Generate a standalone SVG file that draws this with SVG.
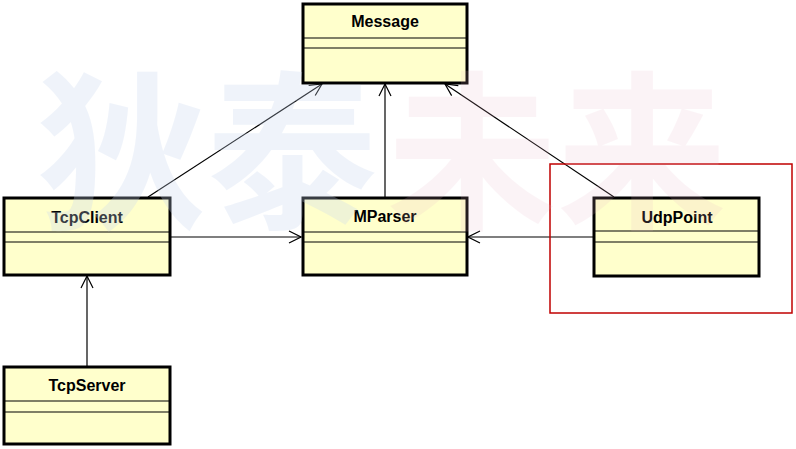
<svg xmlns="http://www.w3.org/2000/svg" width="796" height="449" viewBox="0 0 796 449">
<defs>
<style>
.box{fill:#ffffcc;stroke:#000;stroke-width:3}
.sep{stroke:#000;stroke-width:1.2}
.lbl{font-family:"Liberation Sans",Arial,sans-serif;font-weight:bold;font-size:16px;text-anchor:middle;fill:#000}
.con{stroke:#000;stroke-width:1.2;fill:none;marker-end:url(#arr)}
.wm{font-family:"Noto Sans CJK SC","Noto Sans",sans-serif;font-weight:bold;font-size:170px}
</style>
<marker id="arr" viewBox="0 0 14 14" refX="13" refY="7" markerWidth="14" markerHeight="14" markerUnits="userSpaceOnUse" orient="auto">
<path d="M1,1 L13,7 L1,13" fill="none" stroke="#000" stroke-width="1.2"/>
</marker>
</defs>
<rect width="796" height="449" fill="#fff"/>
<g id="connectors">
<line class="con" x1="148" y1="197" x2="322" y2="84"/>
<line class="con" x1="385" y1="197" x2="385" y2="84"/>
<line class="con" x1="614" y1="197" x2="445" y2="84"/>
<line class="con" x1="170" y1="237" x2="301" y2="237"/>
<line class="con" x1="593" y1="237" x2="468" y2="237"/>
<line class="con" x1="87" y1="366" x2="87" y2="276"/>
</g>
<g id="Message">
<rect class="box" x="303" y="4" width="164" height="79"/>
<line class="sep" x1="303" y1="38" x2="467" y2="38"/>
<line class="sep" x1="303" y1="48" x2="467" y2="48"/>
<text class="lbl" x="385" y="27">Message</text>
</g>
<g id="TcpClient">
<rect class="box" x="4" y="198" width="166" height="77"/>
<line class="sep" x1="4" y1="232" x2="170" y2="232"/>
<line class="sep" x1="4" y1="242" x2="170" y2="242"/>
<text class="lbl" x="87" y="223">TcpClient</text>
</g>
<g id="MParser">
<rect class="box" x="303" y="198" width="164" height="77"/>
<line class="sep" x1="303" y1="232" x2="467" y2="232"/>
<line class="sep" x1="303" y1="242" x2="467" y2="242"/>
<text class="lbl" x="385" y="222">MParser</text>
</g>
<g id="UdpPoint">
<rect class="box" x="594" y="198" width="165" height="78"/>
<line class="sep" x1="594" y1="231" x2="759" y2="231"/>
<line class="sep" x1="594" y1="242" x2="759" y2="242"/>
<text class="lbl" x="677" y="223">UdpPoint</text>
</g>
<g id="TcpServer">
<rect class="box" x="4" y="367" width="166" height="77"/>
<line class="sep" x1="4" y1="401" x2="170" y2="401"/>
<line class="sep" x1="4" y1="412" x2="170" y2="412"/>
<text class="lbl" x="87" y="391">TcpServer</text>
</g>
<g id="highlight">
<rect x="550" y="164" width="242" height="149" fill="none" stroke="#c00000" stroke-width="1.5"/>
</g>
<g id="watermark">
<text class="wm" x="37" y="216" fill="rgb(200,215,240)" opacity="0.28">狄泰</text>
<text class="wm" x="387" y="216" fill="rgb(235,180,200)" opacity="0.15">未来</text>
</g>
</svg>
